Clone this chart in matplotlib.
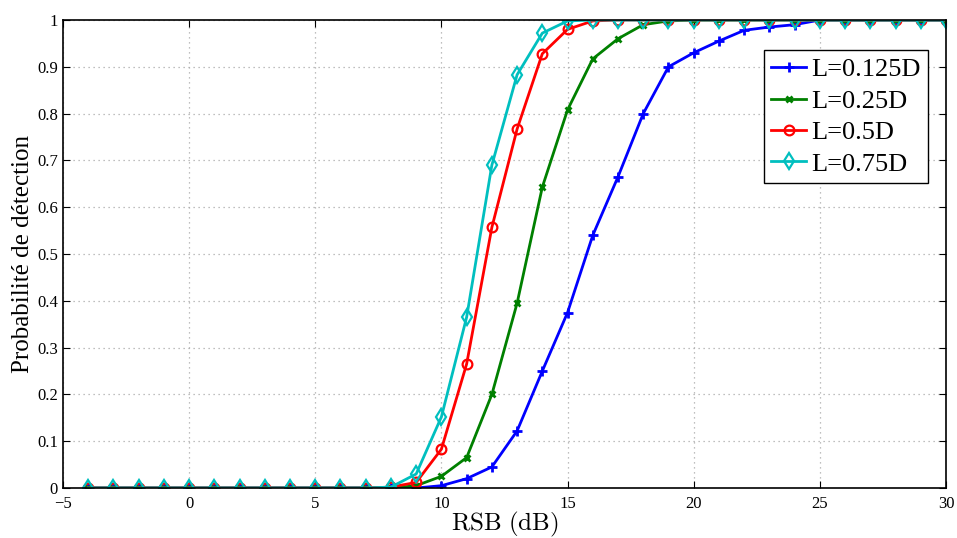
import numpy as np
import matplotlib
matplotlib.use('Agg')
import matplotlib.pyplot as plt

plt.rcParams['font.family'] = 'Liberation Serif'
plt.rcParams['mathtext.fontset'] = 'cm'

# Data: SNR (dB) and detection probability for each L
rsb = list(range(-4, 31))

p_0125 = [0]*13 + [0.0, 0.005, 0.02, 0.045, 0.122, 0.25, 0.375, 0.54, 0.665, 0.80,
                   0.90, 0.93, 0.955, 0.978, 0.985, 0.99] + [1.0]*6
p_025 = [0]*12 + [0.0, 0.005, 0.025, 0.065, 0.20, 0.395, 0.643, 0.808, 0.917, 0.96,
                  0.99, 0.998] + [1.0]*11
p_05 = [0]*12 + [0.002, 0.012, 0.083, 0.265, 0.557, 0.767, 0.928, 0.98, 0.998] + [1.0]*14
p_075 = [0]*12 + [0.002, 0.03, 0.152, 0.365, 0.69, 0.883, 0.972, 0.998] + [1.0]*15

labels = ['L=0.125D', 'L=0.25D', 'L=0.5D', 'L=0.75D']

fig = plt.figure(figsize=(9.57, 5.38), dpi=100)
ax = fig.add_axes([0.0658, 0.0929, 0.9227, 0.8699])

ax.plot(rsb, p_0125, color='#0000ff', lw=2, marker='+', ms=7, mew=2, label=labels[0])
ax.plot(rsb, p_025, color='#008000', lw=2, marker='x', ms=4.5, mew=2, label=labels[1])
ax.plot(rsb, p_05, color='#ff0000', lw=2, marker='o', ms=7, mew=1.6, mfc='none', label=labels[2])
ax.plot(rsb, p_075, color='#00bfbf', lw=2, marker='d', ms=8, mew=1.6, mfc='none', label=labels[3])

ax.set_xlim(-5, 30)
ax.set_ylim(0, 1)
ax.set_xticks(range(-5, 31, 5))
ax.set_xticklabels(['\u22125', '0', '5', '10', '15', '20', '25', '30'])
ax.set_yticks(np.arange(0, 1.01, 0.1))
ax.set_yticklabels(['0', '0.1', '0.2', '0.3', '0.4', '0.5', '0.6', '0.7', '0.8', '0.9', '1'])
ax.tick_params(direction='in', top=True, right=True, labelsize=12, length=5)
ax.tick_params(axis='x', pad=6)
ax.grid(True, linestyle=(0, (1, 3)), color='#aaaaaa', lw=0.9)
for s in ax.spines.values():
    s.set_linewidth(1.2)

ax.set_xlabel(r'$\mathrm{RSB\ (dB)}$', fontsize=18, labelpad=-2)
ax.set_ylabel('Probabilité de détection', fontsize=18, labelpad=2)

leg = ax.legend(loc='upper right', bbox_to_anchor=(0.98, 0.936), fontsize=19,
                fancybox=False, edgecolor='black', framealpha=1, borderaxespad=0,
                handlelength=1.3, handletextpad=0.2, borderpad=0.3, labelspacing=0.3)
leg.get_frame().set_linewidth(1.0)

plt.savefig('out.png', dpi=100)
